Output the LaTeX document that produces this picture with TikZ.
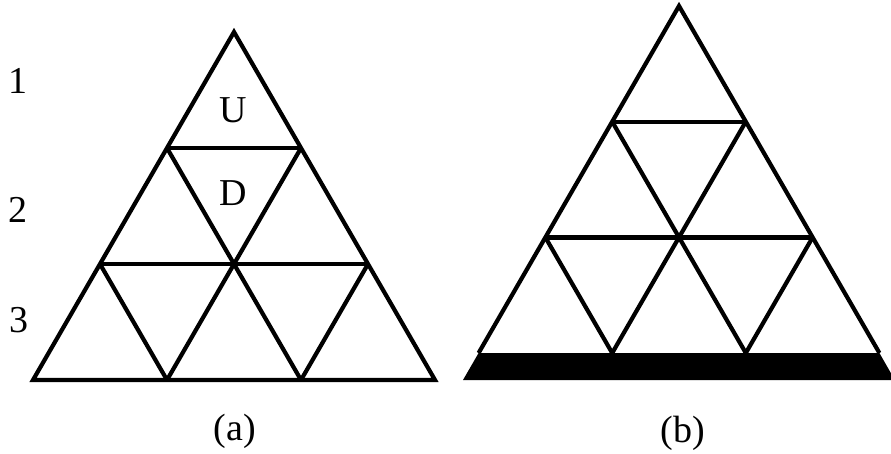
\documentclass[tikz,border=0pt]{standalone}
\usepackage{fontspec}
\setmainfont{Liberation Serif}
\begin{document}
\begin{tikzpicture}[x=1pt,y=-1pt,
  gridline/.style={line width=4.2pt,line join=miter,line cap=butt},
  lbl/.style={font=\fontsize{38}{42}\selectfont,inner sep=0pt},
  bar/.style={fill=black,draw=none}]
\useasboundingbox[fill=white] (0,0) rectangle (891,453);
% ---------- (a) ----------
\begin{scope}[shift={(234,32)}]
  \coordinate (a00) at (0,0);
  \coordinate (a10) at (-67,116);   \coordinate (a11) at (67,116);
  \coordinate (a20) at (-134,232);  \coordinate (a21) at (0,232);  \coordinate (a22) at (134,232);
  \coordinate (a30) at (-201,348);  \coordinate (a31) at (-67,348); \coordinate (a32) at (67,348); \coordinate (a33) at (201,348);
\end{scope}
\draw[gridline] (a00) -- (a30) -- (a33) -- cycle;
\draw[gridline] (a10) -- (a11);
\draw[gridline] (a20) -- (a22);
\draw[gridline] (a10) -- (a32);
\draw[gridline] (a11) -- (a31);
\draw[gridline] (a20) -- (a31);
\draw[gridline] (a22) -- (a32);
\node[lbl] (n1) at (18,81) {1};
\node[lbl] (n2) at (18,210) {2};
\node[lbl] (n3) at (19,320) {3};
\node[lbl] (U) at (233,110) {U};
\node[lbl] (D) at (233,193) {D};
\node[lbl] (capa) at (235,431) {(a)};
% ---------- (b) ----------
\begin{scope}[shift={(679,6)}]
  \coordinate (b00) at (0,0);
  \coordinate (b10) at (-66.8,115.7);   \coordinate (b11) at (66.8,115.7);
  \coordinate (b20) at (-133.6,231.4);  \coordinate (b21) at (0,231.4);  \coordinate (b22) at (133.6,231.4);
  \coordinate (b30) at (-200.4,347);  \coordinate (b31) at (-66.8,347); \coordinate (b32) at (66.8,347); \coordinate (b33) at (200.4,347);
  \coordinate (bl) at (-216,374); \coordinate (br) at (212,374); \coordinate (brs) at (212,367.3);
\end{scope}
\fill[bar] (b30) -- (b33) -- (brs) -- (br) -- (bl) -- cycle;
\draw[gridline] (b30) -- (b00) -- (b33);
\draw[gridline] (b10) -- (b11);
\draw[gridline] (b20) -- (b22);
\draw[gridline] (b10) -- (b32);
\draw[gridline] (b11) -- (b31);
\draw[gridline] (b20) -- (b31);
\draw[gridline] (b22) -- (b32);
\node[lbl] (capb) at (683,433) {(b)};
\end{tikzpicture}
\end{document}
